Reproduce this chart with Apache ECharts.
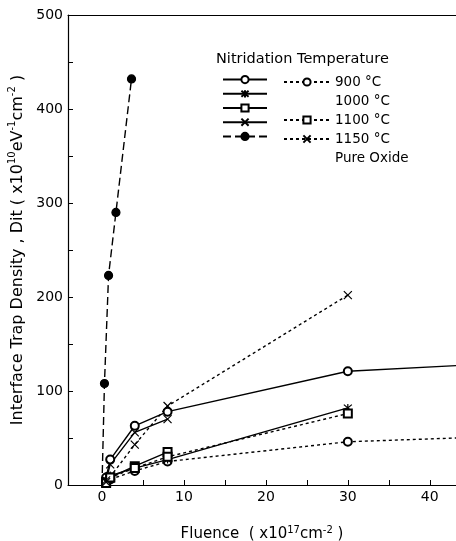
<!DOCTYPE html>
<html>
<head>
<meta charset="utf-8">
<script src="https://cdn.jsdelivr.net/npm/echarts@6/dist/echarts.min.js"></script>
<style>
  html, body { margin: 0; padding: 0; background: #fff; }
  #chart { width: 456px; height: 541px; }
</style>
</head>
<body>
<div id="chart"></div>
<script>
// values: [fluence (x1e17 cm^-2), Dit (x1e10 eV^-1 cm^-2)]
var oxide = [[0, 0], [0.3, 108], [0.8, 223], [1.7, 290], [3.6, 432]];
var solid900 = [[0.5, 8], [1, 27], [4, 63], [8, 78], [30, 121], [43.2, 127]];
var dot900 = [[0.5, 2], [1, 6], [4, 15], [8, 25], [30, 46], [43.2, 50]];
var solid1000 = [[0.5, 3], [1, 10], [4, 18], [8, 27], [30, 82]];
var solid1100 = [[0.5, 3], [1, 8], [4, 20], [8, 35]];
var dot1100 = [[0.5, 2], [1, 8], [4, 18], [8, 30], [30, 76]];
var solid1150 = [[0.5, 5], [1, 22], [4, 56], [8, 70]];
var dot1150 = [[0.5, 3], [4, 43], [8, 84], [30, 202]];
// points drawn as line only (no marker)
var bareX = [0, 43.2];

var xLabels = [0, 10, 20, 30, 40];
var xTicks = [0, 5, 10, 15, 20, 25, 30, 35, 40];
var yLabels = [0, 100, 200, 300, 400, 500];
var yTicks = [0, 50, 100, 150, 200, 250, 300, 350, 400, 450, 500];

var font = 'DejaVu Sans';
var xMark = 'path://M0,0L10,10M10,0L0,10';
var starMark = 'path://M0,0L10,10M10,0L0,10M5,-1L5,11';

function pts(arr) {
    return arr.map(function (p) {
        if (bareX.indexOf(p[0]) >= 0) return { value: p, symbol: 'none' };
        return p;
    });
}

function mkSeries(name, arr, lineType, symbol, size) {
    return {
        name: name,
        type: 'line',
        data: pts(arr),
        smooth: false,
        symbol: symbol,
        symbolSize: size,
        showAllSymbol: true,
        lineStyle: { color: '#000', width: 1.4, type: lineType },
        itemStyle: { color: '#000', borderColor: '#000', borderWidth: 1.2 },
        emphasis: { disabled: true },
        z: 3
    };
}

function dummy(name) {
    return {
        name: name, type: 'line', data: [], symbol: 'none',
        lineStyle: { opacity: 0 }, itemStyle: { opacity: 0 }
    };
}

var dotted = [3, 3];
var dashed = [8, 4];

var labelMap = {
    'd900': '900 \u00b0C', 'd1000': '1000 \u00b0C', 'd1100': '1100 \u00b0C',
    'd1150': '1150 \u00b0C', 'doxide': 'Pure Oxide'
};

var chart = echarts.init(document.getElementById('chart'), null, { renderer: 'canvas' });

var option = {
    backgroundColor: '#fff',
    animation: false,
    textStyle: { fontFamily: font, color: '#000' },
    title: {
        text: 'Nitridation Temperature',
        left: 216, top: 52, padding: 0,
        textStyle: { fontFamily: font, fontSize: 14.5, fontWeight: 'normal', color: '#000' }
    },
    legend: [
        {
            orient: 'vertical', left: 222, top: 75, padding: 0,
            itemWidth: 44, itemHeight: 9, itemGap: 5,
            data: ['s900', 's1000', 's1100', 's1150', 'oxide'],
            formatter: function () { return ''; },
            textStyle: { fontSize: 13, lineHeight: 14 },
            selectedMode: false
        },
        {
            orient: 'vertical', left: 283, top: 75, padding: 0,
            itemWidth: 46, itemHeight: 9, itemGap: 5,
            data: ['d900', 'd1000', 'd1100', 'd1150', 'doxide'],
            formatter: function (n) { return labelMap[n]; },
            textStyle: { fontFamily: font, fontSize: 13.5, lineHeight: 14, color: '#000' },
            selectedMode: false
        }
    ],
    grid: { left: 68, right: 0, top: 15, bottom: 56, outerBoundsMode: 'none' },
    xAxis: [
        {
            type: 'value', min: -4.15, max: 43.2,
            name: 'Fluence  ( x10{sup|17}cm{sup|-2} )',
            nameLocation: 'middle', nameGap: 40,
            nameTextStyle: {
                fontFamily: font, fontSize: 15, color: '#000',
                rich: { sup: { fontFamily: font, fontSize: 10, padding: [0, 0, 9, 0] } }
            },
            axisLine: { onZero: false, lineStyle: { color: '#000', width: 1.2 } },
            axisTick: { inside: true, length: 5, customValues: xTicks, lineStyle: { color: '#000' } },
            axisLabel: { customValues: xLabels, fontFamily: font, fontSize: 14, color: '#000', margin: 5 },
            splitLine: { show: false }
        },
        {
            type: 'value', position: 'top', min: -4.15, max: 43.2,
            axisLine: { show: true, onZero: false, lineStyle: { color: '#000', width: 1 } },
            axisTick: { show: false }, axisLabel: { show: false }, splitLine: { show: false }
        }
    ],
    yAxis: {
        type: 'value', min: 0, max: 500,
        name: 'Interface Trap Density , Dit ( x10{sup|10}eV{sup|-1}cm{sup|-2} )',
        nameLocation: 'middle', nameGap: 37,
        nameTextStyle: {
            fontFamily: font, fontSize: 16, color: '#000',
            rich: { sup: { fontFamily: font, fontSize: 10, padding: [0, 0, 10, 0] } }
        },
        axisLine: { show: true, onZero: false, lineStyle: { color: '#000', width: 1.2 } },
        axisTick: { inside: true, length: 5, customValues: yTicks, lineStyle: { color: '#000' } },
        axisLabel: { customValues: yLabels, fontFamily: font, fontSize: 14, color: '#000', margin: 5 },
        splitLine: { show: false }
    },
    series: [
        mkSeries('oxide', oxide, dashed, 'circle', 8),
        mkSeries('s900', solid900, 'solid', 'emptyCircle', 8),
        mkSeries('d900', dot900, dotted, 'emptyCircle', 8),
        mkSeries('s1000', solid1000, 'solid', starMark, 8),
        dummy('d1000'),
        mkSeries('s1100', solid1100, 'solid', 'emptyRect', 8),
        mkSeries('d1100', dot1100, dotted, 'emptyRect', 8),
        mkSeries('s1150', solid1150, 'solid', xMark, 8),
        mkSeries('d1150', dot1150, dotted, xMark, 8),
        dummy('doxide')
    ]
};

chart.setOption(option);
</script>
</body>
</html>
